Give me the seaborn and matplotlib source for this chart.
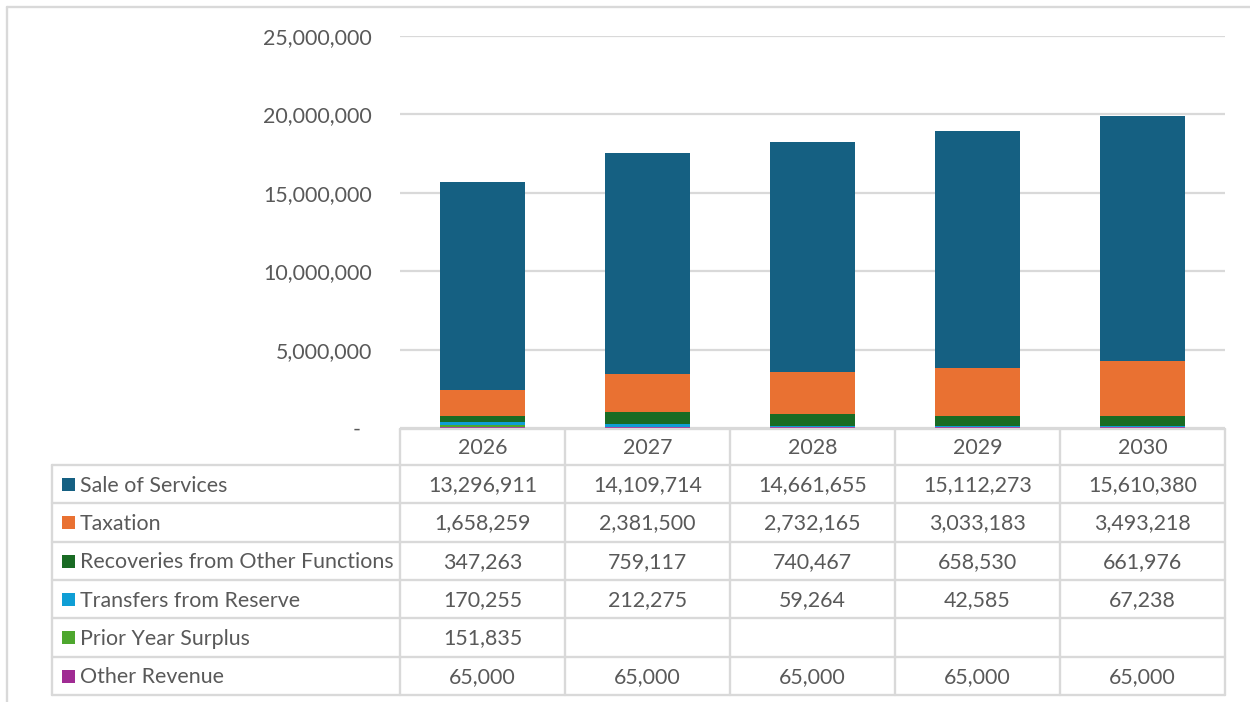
import matplotlib
matplotlib.use("Agg")
import matplotlib.pyplot as plt
import seaborn as sns
import pandas as pd
import numpy as np
from matplotlib.ticker import FuncFormatter

years = ["2026", "2027", "2028", "2029", "2030"]
series_names = ["Sale of Services", "Taxation", "Recoveries from Other Functions",
                "Transfers from Reserve", "Prior Year Surplus", "Other Revenue"]
sale_of_services = [13296911, 14109714, 14661655, 15112273, 15610380]
taxation = [1658259, 2381500, 2732165, 3033183, 3493218]
recoveries = [347263, 759117, 740467, 658530, 661976]
transfers = [170255, 212275, 59264, 42585, 67238]
prior_surplus = [151835, None, None, None, None]
other_revenue = [65000, 65000, 65000, 65000, 65000]
colors = ["#156082", "#E97132", "#196B24", "#0F9ED5", "#4EA72E", "#A02B93"]

series_values = [sale_of_services, taxation, recoveries, transfers, prior_surplus, other_revenue]

sns.set_theme(style="white")
plt.rcParams["font.family"] = ["Lato", "DejaVu Sans"]
TXT = "#595959"
GRID = "#D9D9D9"
FS = 15.4

W, H = 1250, 702
fig = plt.figure(figsize=(W / 100, H / 100), dpi=100)

# chart axes
ax_l, ax_r, ax_t, ax_b = 400, 1225, 36, 428
ax = fig.add_axes([ax_l / W, 1 - ax_b / H, (ax_r - ax_l) / W, (ax_b - ax_t) / H])

# long data, stacked: bottom = Other Revenue ... top = Sale of Services
rows = []
for name, vals in zip(series_names, series_values):
    for y, v in zip(years, vals):
        rows.append({"Year": y, "Series": name, "Value": 0 if v is None else v})
df = pd.DataFrame(rows)
wide = df.pivot(index="Year", columns="Series", values="Value").loc[years, series_names]

# cumulative tops; draw from the tallest (Sale of Services) down so lower segments overlay
stack_order = series_names[::-1]  # bottom to top
cum = wide[stack_order].cumsum(axis=1)
for name in series_names:  # top series first
    color = colors[series_names.index(name)]
    d = pd.DataFrame({"Year": years, "Top": cum[name].values})
    sns.barplot(data=d, x="Year", y="Top", color=color, width=0.52,
                saturation=1, ax=ax, linewidth=0, zorder=3)

ax.set_ylim(0, 25_000_000)
ax.set_xlim(-0.5, 4.5)
ax.set_yticks(np.arange(0, 25_000_001, 5_000_000))
ax.yaxis.set_major_formatter(FuncFormatter(lambda v, p: "-  " if v == 0 else f"{int(v):,}"))
ax.tick_params(axis="y", labelsize=FS, labelcolor=TXT, length=0, pad=20)
ax.set_xticks([])
ax.set_xlabel("")
ax.set_ylabel("")
ax.grid(axis="y", color=GRID, linewidth=1.6, zorder=0)
ax.set_axisbelow(True)
for s in ax.spines.values():
    s.set_visible(False)

# overlay axes in pixel coordinates for the data table and frame
ov = fig.add_axes([0, 0, 1, 1])
ov.set_xlim(0, W)
ov.set_ylim(H, 0)
ov.axis("off")
ov.patch.set_alpha(0)

lw = 1.7
# outer chart frame (left and top visible)
ov.plot([7, 7], [7, H], color=GRID, lw=lw)
ov.plot([7, W], [7, 7], color=GRID, lw=lw)

col_edges = [400, 565, 730, 895, 1060, 1225]
header_top, header_bot = 429, 465
row_h = 38.3
row_edges = [header_bot + i * row_h for i in range(len(series_names) + 1)]
table_left = 52

# horizontal lines
ov.plot([col_edges[0], col_edges[-1]], [header_top, header_top], color=GRID, lw=lw)
for yv in row_edges:
    ov.plot([table_left, col_edges[-1]], [yv, yv], color=GRID, lw=lw)
# vertical lines
for xv in col_edges:
    ov.plot([xv, xv], [header_top, row_edges[-1]], color=GRID, lw=lw)
ov.plot([table_left, table_left], [header_bot, row_edges[-1]], color=GRID, lw=lw)

# header text
for i, y in enumerate(years):
    xc = (col_edges[i] + col_edges[i + 1]) / 2
    ov.text(xc, (header_top + header_bot) / 2 + 1, y, ha="center", va="center",
            fontsize=FS, color=TXT)

# rows
for r, (name, vals) in enumerate(zip(series_names, series_values)):
    yc = (row_edges[r] + row_edges[r + 1]) / 2
    ov.add_patch(plt.Rectangle((62, yc - 6), 13, 13, color=colors[r], lw=0))
    ov.text(80, yc + 1.5, name, ha="left", va="center", fontsize=FS, color=TXT)
    for i, v in enumerate(vals):
        if v is None:
            continue
        xc = (col_edges[i] + col_edges[i + 1]) / 2
        ov.text(xc, yc + 1, f"{v:,}", ha="center", va="center", fontsize=FS, color=TXT)

fig.savefig("out.png", dpi=100, facecolor="white")
